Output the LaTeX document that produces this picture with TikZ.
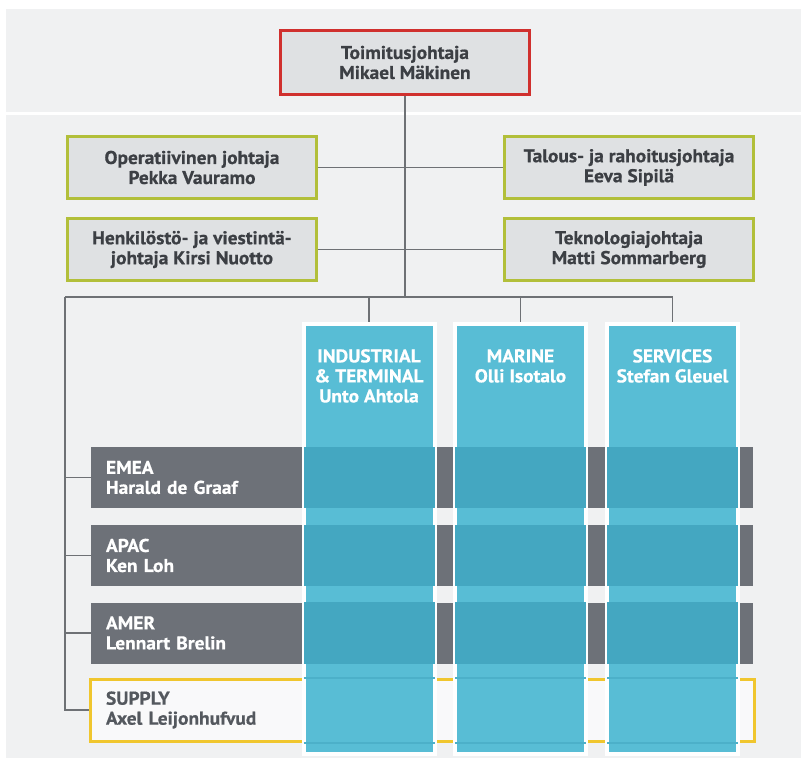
\documentclass[tikz,border=0pt]{standalone}
\usepackage{fontspec}
\setmainfont{PT Sans}[FakeBold=0.6, FakeStretch=1.05]
\usetikzlibrary{calc,positioning}
\definecolor{bggray}{HTML}{F0F1F2}
\definecolor{boxgray}{HTML}{DFE1E3}
\definecolor{ceored}{HTML}{D0302E}
\definecolor{mgmtgreen}{HTML}{B2BF3A}
\definecolor{linegray}{HTML}{6E7175}
\definecolor{rowgray}{HTML}{6D7178}
\definecolor{colteal}{HTML}{58BDD5}
\definecolor{darkteal}{HTML}{44A7C1}
\definecolor{supplyyellow}{HTML}{F0C62E}
\definecolor{textgray}{HTML}{3C3F44}
\definecolor{supplytext}{HTML}{54585E}
\newcommand{\orgfont}{\fontsize{18.5}{20}\selectfont\bfseries}

\tikzset{
  mgmt/.style={draw=mgmtgreen, line width=3pt, fill=boxgray, minimum width=249pt,
    minimum height=62pt, align=center, text=textgray, font=\orgfont},
  ceobox/.style={mgmt, draw=ceored, minimum height=64pt},
  region/.style={fill=rowgray, minimum width=662pt, minimum height=61pt, inner xsep=15pt,
    text width=632pt, align=left, text=white, font=\orgfont},
  supplybox/.style={region, fill=white!60!bggray, draw=supplyyellow, line width=3pt,
    minimum width=664pt, minimum height=62pt, text=supplytext},
  division/.style={fill=colteal, draw=white, line width=4pt, minimum width=131pt,
    minimum height=430pt},
  divtext/.style={inner sep=0pt, align=center, text=white, font=\orgfont},
  link/.style={draw=linegray, line width=1.5pt}
}

\begin{document}
\begin{tikzpicture}[x=1pt, y=-1pt]
      %%%%% START %%%%%
      \useasboundingbox (0, 0) rectangle (801, 762);

      \fill[bggray] (6, 9) rectangle (801, 758);
      \fill[white] (6, 112) rectangle (801, 115);

      \coordinate (hub) at (405, 297);
      \coordinate (lbus) at (65, 297);

      \node[ceobox] (ceo) at (405, 62.5) {Toimitusjohtaja\\Mikael Mäkinen};

      \node[mgmt] (coo) at (192, 167.5) {Operatiivinen johtaja\\Pekka Vauramo};
      \node[mgmt] (hr) at (192, 249.5) {Henkilöstö- ja viestintä-\\johtaja Kirsi Nuotto};
      \node[mgmt] (cfo) at (629, 167.5) {Talous- ja rahoitusjohtaja\\Eeva Sipilä};
      \node[mgmt] (cto) at (629, 249.5) {Teknologiajohtaja\\Matti Sommarberg};

      \draw[link] (ceo.south) -- (hub);
      \draw[link] (coo.east) -- (cfo.west);
      \draw[link] (hr.east) -- (cto.west);

      \node[region] (emea) at (422, 477.5) {EMEA\\Harald de Graaf};
      \node[region] (apac) at (422, 555.5) {APAC\\Ken Loh};
      \node[region] (amer) at (422, 633) {AMER\\Lennart Brelin};
      \node[supplybox] (supply) at (422, 710) {SUPPLY\\Axel Leijonhufvud};

      \node[division] (ind) at (369, 539) {};
      \node[division] (mar) at (520.5, 539) {};
      \node[division] (ser) at (672.5, 539) {};

      % overlaps of divisions and regions
      \foreach \c in {ind, mar, ser} {
        \foreach \r in {emea, apac, amer}
          \fill[darkteal] ($(\c.west |- \r.north)+(2,0)$) rectangle ($(\c.east |- \r.south)+(-2,0)$);
        \draw[darkteal!60!colteal, line width=2pt] ($(\c.west |- supply.north)+(2,0)$) -- ($(\c.east |- supply.north)+(-2,0)$);
        \draw[darkteal!60!colteal, line width=2pt] ($(\c.west |- supply.south)+(2,0)$) -- ($(\c.east |- supply.south)+(-2,0)$);
      }

      \node[divtext, below=27pt of ind.north] {INDUSTRIAL\\\& TERMINAL\\Unto Ahtola};
      \node[divtext, below=27pt of mar.north] {MARINE\\Olli Isotalo};
      \node[divtext, below=27pt of ser.north] {SERVICES\\Stefan Gleuel};

      \draw[link] (lbus) -- (lbus -| ser.north) -- (ser.north);
      \draw[link] (lbus -| ind.north) -- (ind.north);
      \draw[link] (lbus -| mar.north) -- (mar.north);
      \draw[link] (lbus) |- (supply.west);
      \draw[link] (lbus |- emea.west) -- (emea.west);
      \draw[link] (lbus |- apac.west) -- (apac.west);
      \draw[link] (lbus |- amer.west) -- (amer.west);

      %%%%% END %%%%%
\end{tikzpicture}
\end{document}
